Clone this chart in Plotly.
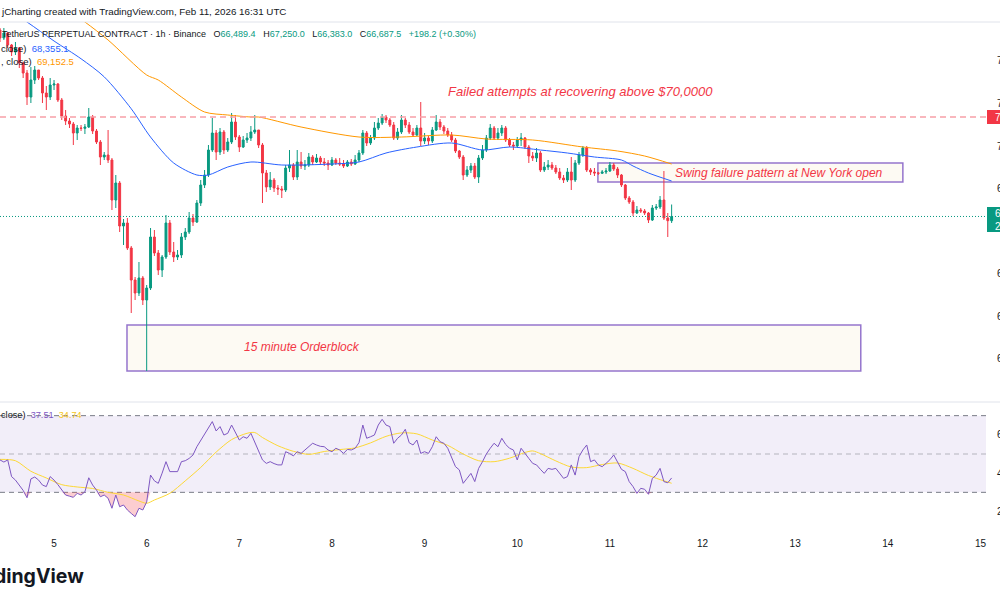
import plotly.graph_objects as go
import pandas as pd

# ---------------- data ----------------
START = "2026-02-04 10:00"
FIRST_OPEN = 75452

CLOSE = [75076, 75311, 74747, 74418, 74606, 73901, 73431, 72303, 73102, 73572,
         73196, 72491, 72303, 72867, 72914, 72162, 71410, 71175, 71034, 70611,
         70846, 70830, 70893, 71363, 70705, 70188, 69483, 69577, 69342, 67462,
         68261, 66240, 66381, 65206, 63702, 63091, 63796, 62762, 63326, 65723,
         64971, 64172, 64783, 66381, 65018, 64783, 64877, 65723, 65958, 66616,
         66428, 67321, 68167, 68637, 69812, 70611, 69718, 70658, 69812, 70188,
         71128, 70423, 69953, 70282, 70376, 70658, 70752, 70047, 68731, 68073,
         68402, 68026, 67979, 67932, 68966, 69107, 68543, 69248, 69060, 69107,
         69483, 69248, 69436, 69248, 69201, 69107, 69342, 69201, 69154, 69060,
         69248, 69154, 69342, 69671, 70611, 70141, 70376, 70846, 71081, 71363,
         71222, 70987, 70376, 70658, 71222, 70987, 70658, 70517, 70846, 70235,
         70376, 70235, 70752, 71128, 70893, 70705, 70517, 70282, 69765, 69483,
         68637, 68872, 69060, 68543, 69436, 69812, 70376, 70846, 70376, 70611,
         70846, 70282, 70047, 70000, 70282, 70376, 69953, 69530, 69436, 69671,
         68872, 69013, 69107, 68966, 68778, 68496, 68402, 68778, 68402, 69201,
         69577, 69906, 68872, 68778, 68731, 68720, 68778, 68825, 69107, 68919,
         68637, 68167, 67556, 67368, 66851, 66992, 66945, 66851, 66522, 67086,
         67133, 67462, 66616, 66489.4, 66687.5]

HIGH = [75546, 75546, 75358, 74794, 74888, 74653, 73948, 73572, 73713, 73760,
        73572, 73290, 72820, 73196, 73102, 72961, 72256, 71692, 71316, 71128,
        70987, 70987, 71034, 71786, 71457, 70799, 70282, 69718, 70752, 69436,
        68637, 68355, 66569, 66616, 65300, 63843, 64548, 63890, 63467, 66146,
        66052, 65112, 64877, 66757, 66522, 65488, 65112, 65911, 66146, 66898,
        66804, 67462, 68402, 68872, 70047, 71316, 70752, 70846, 70752, 70376,
        71551, 71457, 70517, 70470, 70611, 70940, 71457, 70752, 70141, 68872,
        68778, 68496, 68167, 68120, 69107, 69812, 69201, 69812, 69718, 69342,
        69671, 69577, 69624, 69530, 69436, 69342, 69483, 69436, 69436, 69342,
        69342, 69389, 69577, 69812, 70752, 70705, 70517, 71128, 71316, 71504,
        71457, 71316, 71128, 70846, 71457, 71316, 71128, 70846, 70987, 72068,
        70611, 70470, 70893, 71457, 71269, 70987, 70846, 70658, 70376, 69812,
        69577, 69060, 69201, 69201, 69577, 70047, 70517, 71034, 70940, 70846,
        70987, 70940, 70376, 70188, 70423, 70611, 70423, 70047, 69718, 69906,
        69765, 69248, 69342, 69248, 69107, 68966, 68637, 68966, 69483, 69342,
        69718, 70000, 70000, 68966, 68966, 68778, 68872, 68966, 69248, 69201,
        69013, 68684, 68214, 67650, 67462, 67180, 67086, 67039, 66898, 67227,
        67274, 67650, 68825, 66851, 67250]

LOW = [74888, 74982, 74606, 74230, 74277, 73666, 73196, 71927, 72021, 72914,
       73102, 72021, 71692, 72162, 72632, 72068, 71222, 70987, 70846, 70047,
       70282, 70705, 70564, 70846, 70564, 70094, 69107, 69342, 69201, 66992,
       67086, 65958, 65347, 65112, 62151, 62762, 62950, 62527, 59425, 63232,
       64830, 63937, 63843, 64689, 64877, 64548, 64642, 64736, 65582, 65864,
       66240, 66381, 67180, 68026, 68543, 69718, 69342, 69577, 69624, 69718,
       70094, 70282, 69718, 69906, 70141, 70235, 70564, 69906, 67321, 67838,
       67932, 67838, 67697, 67556, 67838, 68778, 68402, 68402, 68919, 68872,
       69013, 69107, 69201, 69107, 69060, 68872, 69060, 69107, 69060, 68966,
       69013, 69060, 69107, 69248, 69577, 70000, 70047, 70282, 70752, 70987,
       71081, 70893, 70282, 70282, 70564, 70846, 70564, 70423, 70470, 70000,
       70094, 70047, 70141, 70705, 70752, 70564, 70423, 70188, 69671, 69389,
       68402, 68543, 68731, 68449, 68261, 69342, 69718, 70282, 70282, 70282,
       70470, 70188, 69953, 69812, 69906, 70000, 69859, 69201, 69295, 69248,
       68778, 68778, 68872, 68872, 68684, 68402, 68261, 68308, 67932, 68308,
       69107, 69483, 68778, 68637, 68590, 68637, 68684, 68684, 68778, 68825,
       68496, 68073, 67462, 67274, 66710, 66804, 66851, 66757, 66381, 66475,
       66992, 67039, 66522, 65723, 66383]

RSI = [46.9, 45.8, 46.9, 38.2, 36.4, 33.8, 31.0, 27.2, 37.0, 38.0,
       36.4, 33.8, 33.0, 38.2, 36.4, 34.0, 31.2, 28.6, 28.0, 27.4,
       29.5, 28.6, 30.3, 37.6, 33.8, 31.2, 27.7, 28.6, 26.9, 21.7,
       28.6, 22.5, 23.4, 20.8, 19.0, 17.3, 21.7, 20.8, 25.0, 39.0,
       36.0, 34.7, 40.0, 46.0, 40.8, 40.8, 40.8, 46.0, 46.5, 47.7,
       49.5, 53.8, 57.0, 60.0, 63.4, 66.9, 62.0, 64.3, 59.9, 60.8,
       65.1, 60.8, 57.3, 59.0, 58.2, 60.8, 56.4, 52.1, 46.9, 45.1,
       46.0, 45.0, 44.3, 44.3, 51.2, 50.3, 49.0, 51.2, 50.3, 52.1,
       53.8, 55.6, 54.7, 54.0, 53.8, 52.1, 51.2, 53.0, 52.1, 50.3,
       52.4, 52.1, 53.0, 55.9, 65.1, 58.2, 59.0, 59.9, 65.1, 68.1,
       65.1, 64.3, 55.6, 58.2, 59.9, 62.9, 55.9, 54.7, 57.3, 50.3,
       51.2, 50.3, 53.8, 59.0, 56.4, 55.6, 53.0, 47.7, 43.4, 41.7,
       34.7, 37.3, 39.9, 35.6, 42.5, 46.0, 50.0, 53.0, 55.6, 53.8,
       58.2, 55.0, 53.0, 52.1, 46.9, 53.0, 50.0, 47.7, 45.1, 44.3,
       42.0, 39.9, 42.5, 42.0, 42.5, 40.0, 37.3, 38.2, 44.3, 39.0,
       48.6, 52.1, 54.7, 46.0, 46.9, 44.3, 43.4, 45.1, 47.0, 49.5,
       46.0, 42.0, 40.8, 35.6, 33.0, 29.5, 32.1, 31.6, 29.0, 37.3,
       39.0, 42.5, 35.6, 35.0, 37.51]

RSI_MA_HOURS = [0, 4, 8, 12, 16, 20, 24, 28, 32, 36, 38, 40, 44, 48, 52, 56, 60, 64, 66, 68,
                72, 76, 80, 84, 88, 92, 96, 100, 104, 108, 112, 116, 120, 124, 128, 132,
                136, 138, 140, 144, 148, 152, 156, 160, 164, 168, 172, 174]
RSI_MA = [47.2, 46.5, 41.0, 37.5, 34.0, 32.8, 32.0, 30.0, 28.6, 25.5, 24.3, 26.0, 29.5,
          36.0, 43.0, 51.0, 57.5, 60.8, 61.2, 58.6, 54.3, 51.4, 49.8, 51.3, 52.3, 53.2,
          55.8, 59.2, 61.0, 60.5, 57.3, 54.5, 50.0, 46.5, 46.0, 47.8, 50.8, 51.6, 50.2,
          46.4, 43.2, 42.9, 44.5, 45.3, 42.5, 38.8, 36.0, 34.74]

EMA50_HOURS = [0, 7, 14, 21, 27, 34, 39, 45, 51, 54, 59, 65, 73, 86, 93, 100, 108, 117,
               125, 132, 140, 147, 154, 161, 164, 168, 174]
EMA50 = [76674, 75828, 74935, 74100, 73250, 71750, 70420, 69201, 68637, 68637, 69013,
         69248, 69107, 69154, 69248, 69671, 69953, 70141, 69812, 69953, 69812, 69671,
         69483, 69342, 69060, 68731, 68355.1]

EMA200_HOURS = [0, 10, 22, 28, 38, 41, 47, 53, 59, 65, 67, 78, 93, 104, 117, 126, 138,
                151, 160, 167, 174]
EMA200 = [78977, 77332, 75828, 74982, 73337, 73102, 72303, 71598, 71457, 71363, 71363,
          70893, 70423, 70423, 70517, 70329, 70282, 69953, 69765, 69530, 69152.5]

RESIST_LEVEL = 71363
LAST_PRICE = 66687.5
SFP_BOX = dict(h0=154.9, h1=233.9, lo=68308, hi=69201)
OB_BOX = dict(h0=32.9, h1=223.0, lo=59425, hi=61587)

PRICE_TICKS = [60000, 62000, 64000, 68000, 70000, 72000, 74000]
RSI_TICKS = [20, 40, 60]
DAY_TICKS = ["2026-02-%02d" % d for d in range(5, 16)]
DAY_LABELS = [str(d) for d in range(5, 16)]

# ---------------- styling ----------------
GREEN = "#089981"
RED = "#f23645"
TXT = "#131722"
PURPLE = "#7e57c2"
BOXLINE = "#9575cd"
FONT = "Liberation Sans, Arial, sans-serif"

t0 = pd.Timestamp(START)
times = pd.date_range(START, periods=len(CLOSE), freq="h")
opens = [FIRST_OPEN] + CLOSE[:-1]


def at(h):
    return t0 + pd.Timedelta(hours=h)


W, H = 1000, 600
ML, MR, MT, MB = 0, 14, 22, 72
PH = H - MT - MB  # plot height in px
BOTTOM = H - MB
PW = W - ML - MR


def py(pix):
    """pixel row -> paper y"""
    return (BOTTOM - pix) / PH


def px(pix):
    """pixel column -> paper x"""
    return (pix - ML) / PW


fig = go.Figure()

# candles
fig.add_trace(go.Candlestick(
    x=times, open=opens, high=HIGH, low=LOW, close=CLOSE,
    increasing=dict(line=dict(color=GREEN, width=1), fillcolor=GREEN),
    decreasing=dict(line=dict(color=RED, width=1), fillcolor=RED),
    whiskerwidth=0, hoverinfo="skip", showlegend=False, xaxis="x", yaxis="y"))

# EMAs
fig.add_trace(go.Scatter(x=[at(h) for h in EMA50_HOURS], y=EMA50, mode="lines",
                         line=dict(color="#2962ff", width=1, shape="spline", smoothing=0.8),
                         hoverinfo="skip", showlegend=False, yaxis="y"))
fig.add_trace(go.Scatter(x=[at(h) for h in EMA200_HOURS], y=EMA200, mode="lines",
                         line=dict(color="#ff9800", width=1, shape="spline", smoothing=0.8),
                         hoverinfo="skip", showlegend=False, yaxis="y"))

# RSI oversold fill
fig.add_trace(go.Scatter(x=times, y=[30] * len(RSI), mode="lines", line=dict(width=0),
                         hoverinfo="skip", showlegend=False, yaxis="y2"))
fig.add_trace(go.Scatter(x=times, y=[min(v, 30) for v in RSI], mode="lines",
                         line=dict(width=0), fill="tonexty",
                         fillcolor="rgba(242,54,69,0.25)",
                         hoverinfo="skip", showlegend=False, yaxis="y2"))
# RSI MA and RSI
fig.add_trace(go.Scatter(x=[at(h) for h in RSI_MA_HOURS], y=RSI_MA, mode="lines",
                         line=dict(color="#fdd835", width=1, shape="spline", smoothing=0.8),
                         hoverinfo="skip", showlegend=False, yaxis="y2"))
fig.add_trace(go.Scatter(x=times, y=RSI, mode="lines",
                         line=dict(color=PURPLE, width=1),
                         hoverinfo="skip", showlegend=False, yaxis="y2"))

shapes = []
# RSI band and levels
shapes.append(dict(type="rect", xref="paper", x0=0, x1=1, yref="y2", y0=30, y1=70,
                   fillcolor="rgba(126,87,194,0.1)", line=dict(width=0), layer="below"))
for lvl, col in [(70, "#787b86"), (50, "rgba(120,123,134,0.5)"), (30, "#787b86")]:
    shapes.append(dict(type="line", xref="paper", x0=0, x1=1, yref="y2", y0=lvl, y1=lvl,
                       line=dict(color=col, width=1, dash="5px,4px"), layer="below"))
# boxes
for b in (OB_BOX, SFP_BOX):
    shapes.append(dict(type="rect", xref="x", yref="y", x0=at(b["h0"]), x1=at(b["h1"]),
                       y0=b["lo"], y1=b["hi"], fillcolor="rgba(250,240,215,0.3)",
                       line=dict(color=BOXLINE, width=1.5), layer="below"))
# resistance line & last price line
shapes.append(dict(type="line", xref="paper", x0=0, x1=1, yref="y", y0=RESIST_LEVEL,
                   y1=RESIST_LEVEL, line=dict(color="#f7a0a8", width=1.5, dash="6px,4px")))
shapes.append(dict(type="line", xref="paper", x0=0, x1=1, yref="y", y0=LAST_PRICE,
                   y1=LAST_PRICE, line=dict(color=GREEN, width=1, dash="1px,2px")))
# pane separators
for pix in (22, 402):
    shapes.append(dict(type="line", xref="paper", x0=0, x1=1.1, yref="paper",
                       y0=py(pix), y1=py(pix), line=dict(color="#e0e3eb", width=1)))
# price scale labels
shapes.append(dict(type="rect", xref="paper", x0=px(987), x1=1.05, yref="paper",
                   y0=py(124), y1=py(110), fillcolor=RED, line=dict(width=0)))
shapes.append(dict(type="rect", xref="paper", x0=px(987), x1=1.05, yref="paper",
                   y0=py(232), y1=py(207), fillcolor=GREEN, line=dict(width=0)))

ann = []


def text(x, y, s, size, color=TXT, xanchor="left", xref="paper", yref="paper", family=FONT):
    ann.append(dict(x=x, y=y, xref=xref, yref=yref, text=s, showarrow=False,
                    xanchor=xanchor, yanchor="middle", borderpad=0,
                    font=dict(size=size, color=color, family=family)))


SP = "&nbsp;&nbsp;&nbsp;"
text(0, py(12), "jCharting created with TradingView.com, Feb 11, 2026 16:31 UTC", 9.8)
text(px(1), py(34),
     "TetherUS PERPETUAL CONTRACT · 1h · Binance" + SP +
     f"O<span style='color:{GREEN}'>66,489.4</span>{SP}H<span style='color:{GREEN}'>67,250.0</span>{SP}"
     f"L<span style='color:{GREEN}'>66,383.0</span>{SP}C<span style='color:{GREEN}'>66,687.5</span>{SP}"
     f"<span style='color:{GREEN}'>+198.2 (+0.30%)</span>", 9)
text(0, py(48), "close)&nbsp;&nbsp;<span style='color:#2962ff'>68,355.1</span>", 9.5)
text(0, py(62), ", close)&nbsp;&nbsp;<span style='color:#ff9800'>69,152.5</span>", 9.5)
text(0, py(415), f"close)&nbsp;&nbsp;<span style='color:{PURPLE}'>37.51</span>&nbsp;&nbsp;"
     "<span style='color:#f5c518'>34.74</span>", 9.2)

text(at(150.3), 72585, "<i>Failed attempts at recovering above $70,0000</i>", 13, RED,
     xanchor="center", xref="x", yref="y")
text(at(174.6), 68731, "<i>Swing failure pattern at New York open</i>", 12, RED,
     xanchor="left", xref="x", yref="y")
text(at(78.2), 60553, "<i>15 minute Orderblock</i>", 12, RED,
     xanchor="center", xref="x", yref="y")

text(px(994), py(117), "71,363.0", 10, "white")
text(px(994), py(213), "66,687.5", 10, "white")
text(px(994), py(226), "28:40", 10, "white")

ann.append(dict(x=px(86), y=py(576), xref="paper", yref="paper", text="<b>TradingView</b>",
                showarrow=False, xanchor="right", yanchor="middle",
                font=dict(size=19.5, color=TXT, family="Inter, Liberation Sans, sans-serif")))

fig.update_layout(
    width=W, height=H, margin=dict(l=ML, r=MR, t=MT, b=MB, pad=0),
    paper_bgcolor="white", plot_bgcolor="white", showlegend=False,
    shapes=shapes, annotations=ann, hovermode=False,
    font=dict(family=FONT, color=TXT, size=10),
    xaxis=dict(type="date", anchor="y2", range=[at(0), at(255.44)],
               tickvals=DAY_TICKS, ticktext=DAY_LABELS, showgrid=False, zeroline=False,
               showline=False, ticks="outside", ticklen=6, tickcolor="rgba(0,0,0,0)",
               tickfont=dict(size=10, color=TXT), rangeslider=dict(visible=False),
               automargin=False, fixedrange=True),
    yaxis=dict(domain=[py(401), 1], range=[58015, 75828], side="right", anchor="x",
               tickvals=PRICE_TICKS, ticktext=[f"{v:,.1f}" for v in PRICE_TICKS],
               showgrid=False, zeroline=False, showline=False, ticks="outside", ticklen=8,
               tickcolor="rgba(0,0,0,0)", tickfont=dict(size=10, color=TXT),
               automargin=False, fixedrange=True),
    yaxis2=dict(domain=[0, py(403)], range=[11.4, 76.6], side="right", anchor="x",
                tickvals=RSI_TICKS, ticktext=[f"{v:.2f}" for v in RSI_TICKS],
                showgrid=False, zeroline=False, showline=False, ticks="outside", ticklen=8,
                tickcolor="rgba(0,0,0,0)", tickfont=dict(size=10, color=TXT),
                automargin=False, fixedrange=True),
)

fig.write_html("out.html", include_plotlyjs=True, config={"displayModeBar": False},
               post_script="document.body.style.margin='0';document.body.style.overflow='hidden';")
